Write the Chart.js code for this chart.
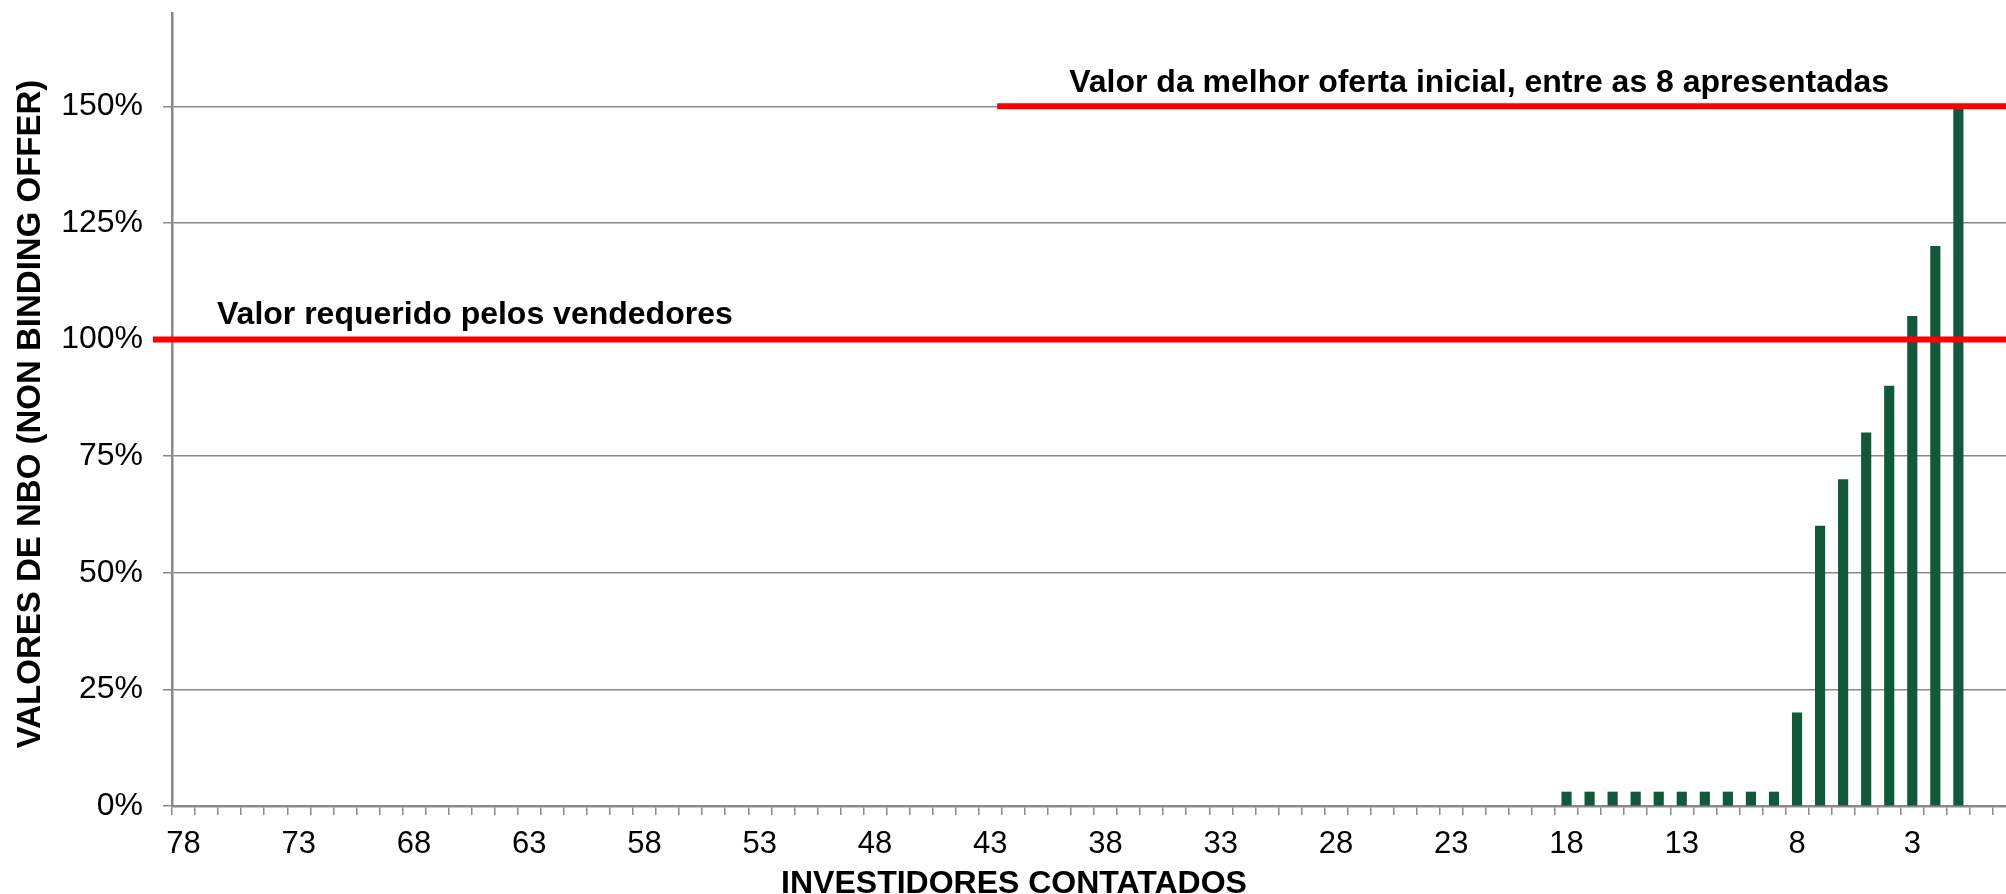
<!DOCTYPE html>
<html>
<head>
<meta charset="utf-8">
<script src="https://cdn.jsdelivr.net/npm/chart.js@4.4.0/dist/chart.umd.min.js"></script>
<style>
  html, body { margin: 0; padding: 0; background: #fff; overflow: hidden; }
  #wrap { width: 2006px; height: 894px; overflow: hidden; }
</style>
</head>
<body>
<div id="wrap"><canvas id="myChart" width="2029" height="894"></canvas></div>
<script>
'use strict';
// data
const categories = [
    78, 77, 76, 75, 74, 73, 72, 71, 70, 69,
    68, 67, 66, 65, 64, 63, 62, 61, 60, 59,
    58, 57, 56, 55, 54, 53, 52, 51, 50, 49,
    48, 47, 46, 45, 44, 43, 42, 41, 40, 39,
    38, 37, 36, 35, 34, 33, 32, 31, 30, 29,
    28, 27, 26, 25, 24, 23, 22, 21, 20, 19,
    18, 17, 16, 15, 14, 13, 12, 11, 10, 9,
    8, 7, 6, 5, 4, 3, 2, 1, 0, ''
];
const nboValues = [
    null, null, null, null, null, null, null, null, null, null,
    null, null, null, null, null, null, null, null, null, null,
    null, null, null, null, null, null, null, null, null, null,
    null, null, null, null, null, null, null, null, null, null,
    null, null, null, null, null, null, null, null, null, null,
    null, null, null, null, null, null, null, null, null, null,
    3, 3, 3, 3, 3, 3, 3, 3, 3, 3,
    20, 60, 70, 80, 90, 105, 120, 150, null, null
];
const xTickLabels = [78, 73, 68, 63, 58, 53, 48, 43, 38, 33, 28, 23, 18, 13, 8, 3];
const yTickValues = [0, 25, 50, 75, 100, 125, 150];
const requiredValue = 100;
const bestOfferValue = 150;
const bestOfferFrom = 43;
const requiredText = 'Valor requerido pelos vendedores';
const bestOfferText = 'Valor da melhor oferta inicial, entre as 8 apresentadas';
const xTitle = 'INVESTIDORES CONTATADOS';
const yTitle = 'VALORES DE NBO (NON BINDING OFFER)';

const FONT = '"Liberation Sans", Arial, sans-serif';
const GRAY = '#898989';
Chart.defaults.font.family = FONT;
Chart.defaults.color = '#000';

// linhas de referencia e titulos
const overlay = {
    id: 'overlay',
    afterDatasetsDraw(chart) {
        const { ctx, chartArea, scales: { x, y } } = chart;
        const band = x.width / categories.length;
        const yReq = y.getPixelForValue(requiredValue);
        const yBest = y.getPixelForValue(bestOfferValue);
        const bestStart = x.getPixelForValue(categories.indexOf(bestOfferFrom)) + band * 0.3;
        ctx.save();
        ctx.strokeStyle = '#ff0000';
        ctx.lineWidth = 6;
        ctx.beginPath();
        ctx.moveTo(chartArea.left - 19, yReq);
        ctx.lineTo(chart.width, yReq);
        ctx.moveTo(bestStart, yBest);
        ctx.lineTo(chart.width, yBest);
        ctx.stroke();

        ctx.fillStyle = '#000';
        ctx.font = 'bold 32px ' + FONT;
        ctx.textAlign = 'left';
        ctx.textBaseline = 'alphabetic';
        ctx.fillText(requiredText, chartArea.left + 45, yReq - 16);
        ctx.fillText(bestOfferText, bestStart + 72, yBest - 14);
        ctx.restore();
    },
    afterDraw(chart) {
        const { ctx } = chart;
        ctx.save();
        ctx.fillStyle = '#000';
        ctx.textAlign = 'center';
        ctx.textBaseline = 'alphabetic';
        ctx.font = 'bold 32px ' + FONT;
        ctx.fillText(xTitle, 1014, 893);
        ctx.translate(40, 414);
        ctx.rotate(-Math.PI / 2);
        ctx.font = 'bold 33px ' + FONT;
        ctx.fillText(yTitle, 0, 0);
        ctx.restore();
    }
};

const ctx = document.getElementById('myChart');
const myChart = new Chart(ctx.getContext('2d'), {
    type: 'bar',
    data: {
        labels: categories,
        datasets: [{
            label: 'NBO',
            data: nboValues,
            backgroundColor: '#12583b',
            borderWidth: 0,
            barThickness: 9.5
        }]
    },
    options: {
        responsive: false,
        animation: false,
        layout: { padding: { top: 13, right: 13, left: 0, bottom: 0 } },
        plugins: {
            legend: { display: false },
            tooltip: { enabled: false }
        },
        scales: {
            x: {
                afterFit: scale => {
                    scale.height = 88;
                    scale.paddingLeft = 0;
                    scale.paddingRight = 0;
                },
                grid: {
                    drawOnChartArea: false,
                    color: GRAY,
                    lineWidth: 1.5,
                    tickLength: 9
                },
                border: { color: GRAY, width: 2.5 },
                ticks: {
                    autoSkip: false,
                    maxRotation: 0,
                    padding: 11,
                    font: { size: 31 },
                    callback: function(value) {
                        const lab = this.getLabelForValue(value);
                        return xTickLabels.includes(lab) ? String(lab) : '';
                    }
                }
            },
            y: {
                min: 0,
                max: 170,
                afterFit: scale => {
                    scale.width = 172;
                    scale.paddingTop = 0;
                    scale.paddingBottom = 0;
                },
                afterBuildTicks: scale => {
                    scale.ticks = yTickValues.map(v => ({ value: v }));
                },
                grid: {
                    color: GRAY,
                    lineWidth: 1.5,
                    tickLength: 9
                },
                border: { color: GRAY, width: 2.5 },
                ticks: {
                    padding: 20,
                    font: { size: 32 },
                    callback: v => v + '%'
                }
            }
        }
    },
    plugins: [overlay]
});
</script>
</body>
</html>
